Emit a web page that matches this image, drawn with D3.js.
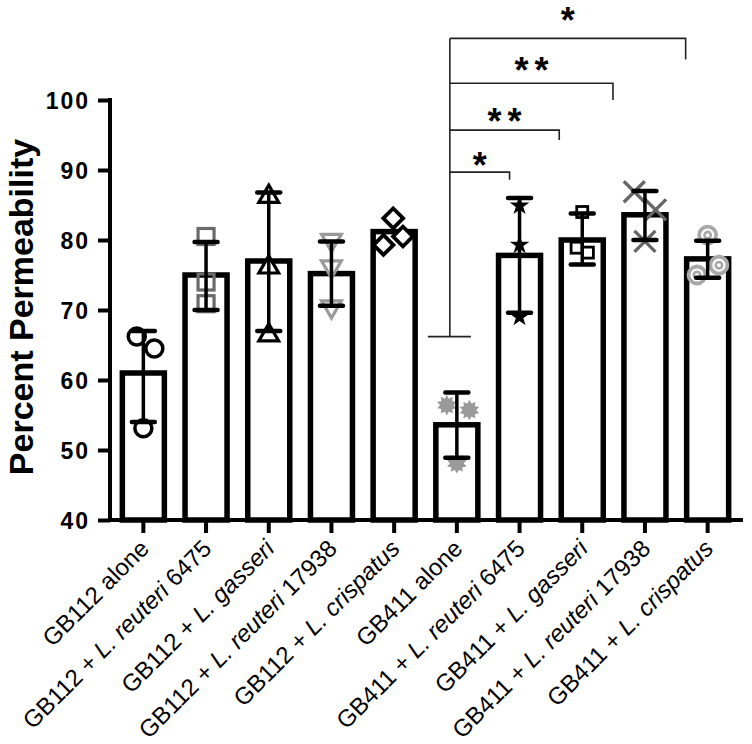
<!DOCTYPE html>
<head>
  <meta charset="utf-8">
  <title>Percent Permeability</title>
  <script src="https://d3js.org/d3.v7.min.js"></script>
  <style>
    body { margin: 0px; background: white; }
    text { font-family: "Liberation Sans", Arial, sans-serif; fill: black; }
    .ytick text { font-weight: bold; font-size: 23px; letter-spacing: 2px; }
    .xlab { font-size: 24px; }
    .sig { font-size: 36px; font-weight: bold; letter-spacing: 6px; }
  </style>
</head>
<body>
  <svg width="752" height="744"></svg>
  <script>
    // ---- data ----
    var categories = ["GB112 alone", "GB112 + L. reuteri 6475", "GB112 + L. gasseri",
      "GB112 + L. reuteri 17938", "GB112 + L. crispatus", "GB411 alone",
      "GB411 + L. reuteri 6475", "GB411 + L. gasseri", "GB411 + L. reuteri 17938",
      "GB411 + L. crispatus"];
    var means   = [61, 75, 77, 75.2, 81.2, 53.6, 77.8, 80, 83.6, 77.3];
    var errLow  = [54, 70, 67, 70.6, null, 48.9, 69.6, 76.5, 80, 74.6];
    var errHigh = [67, 79.7, 86.8, 79.8, null, 58.2, 86, 83.8, 87, 79.9];
    var points = [
      [66.2, 64.5, 53.1],
      [80.5, 74.0, 70.9],
      [86.2, 76.1, 66.4],
      [80.0, 76.2, 70.5],
      [83.1, 79.3, 80.5],
      [56.4, 55.7, 48.1],
      [84.9, 79.3, 69.0],
      [84.0, 78.9, 78.2],
      [86.9, 84.3, 79.8],
      [80.7, 76.4, 75.0]
    ];
    var yTicks = [40, 50, 60, 70, 80, 90, 100];
    // significance vs "GB411 alone": target bar, bracket level, drop level, label
    var sigTarget = [9, 8, 7, 6];
    var sigLevel  = [108.8, 102.4, 95.7, 89.7];
    var sigDrop   = [105.8, 100, 94.3, 88.6];
    var sigText   = ["*", "**", "**", "*"];
    var sigTextY  = [112.6, 105.4, 98.1, 91.9];
    var sigBase   = 66.2;

    // ---- layout ----
    var svg = d3.select("svg");
    var yAxisX = 110;
    var x = d3.scaleBand().domain(categories).range([112, 739]).paddingInner(0.33).paddingOuter(0.165);
    var y = d3.scaleLinear().domain([40, 100]).range([520, 100]);
    var cx = function(i) { return x(categories[i]) + x.bandwidth() / 2; };
    var step = x.step();
    // horizontal jitter of the dots (fraction of step), as in the figure
    var jitter = [[-0.105, 0.175, 0], [0, 0, 0], [0, 0, 0], [0, 0, 0], [-0.015, -0.17, 0.14],
      [-0.16, 0.2, 0], [0, 0, 0], [0, -0.09, 0.09], [-0.17, 0.17, 0], [0, 0.18, -0.17]];
    var markerType = ["circle", "square", "triUp", "triDown", "diamond", "gear", "star", "smallSquare", "cross", "rings"];
    var markerColor = ["#000", "#6a6a6a", "#000", "#9a9a9a", "#000", "#9a9a9a", "#000", "#000", "#666", "#a8a8a8"];

    // bars
    svg.append("g").selectAll("rect")
      .data(means)
      .enter().append("rect")
      .attr("x", function(d, i) { return x(categories[i]); })
      .attr("y", function(d) { return y(d); })
      .attr("width", x.bandwidth())
      .attr("height", function(d) { return y(40) - y(d); })
      .attr("fill", "white")
      .attr("stroke", "black")
      .attr("stroke-width", 5.5);

    // dots
    var dots = svg.append("g");
    points.forEach(function(vals, i) {
      vals.forEach(function(v, j) {
        var g = dots.append("g")
          .attr("transform", translate(cx(i) + jitter[i][j] * step, y(v)));
        drawMarker(g, markerType[i], markerColor[i]);
      });
    });

    // error bars
    var eb = svg.append("g").attr("stroke", "black");
    means.forEach(function(m, i) {
      if (errLow[i] == null) return;
      var c = cx(i);
      eb.append("line").attr("x1", c).attr("x2", c)
        .attr("y1", y(errLow[i])).attr("y2", y(errHigh[i])).attr("stroke-width", 3.5);
      [errLow[i], errHigh[i]].forEach(function(v) {
        eb.append("line").attr("x1", c - 11.5).attr("x2", c + 11.5)
          .attr("y1", y(v)).attr("y2", y(v)).attr("stroke-width", 4.5)
          .attr("stroke-linecap", "round");
      });
    });

    // y axis
    var yAxis = svg.append("g")
      .attr("class", "ytick")
      .attr("transform", translate(yAxisX, 0))
      .call(d3.axisLeft(y).tickValues(yTicks).tickSize(12).tickSizeOuter(0).tickPadding(8));
    yAxis.select(".domain").attr("stroke-width", 4).attr("d", "M0,98V522");
    yAxis.selectAll(".tick line").attr("stroke-width", 4);
    yAxis.selectAll(".tick text").attr("dy", "0.36em");

    svg.append("text")
      .attr("transform", translate(33, 307) + " rotate(-90)")
      .attr("text-anchor", "middle")
      .style("font-size", "34px")
      .style("font-weight", "bold")
      .text("Percent Permeability");

    // x axis
    svg.append("line")
      .attr("x1", yAxisX).attr("x2", 743)
      .attr("y1", y(40)).attr("y2", y(40))
      .attr("stroke", "black").attr("stroke-width", 4);
    svg.append("g").selectAll("line")
      .data(categories)
      .enter().append("line")
      .attr("x1", function(d, i) { return cx(i); })
      .attr("x2", function(d, i) { return cx(i); })
      .attr("y1", y(40)).attr("y2", y(40) + 13)
      .attr("stroke", "black").attr("stroke-width", 4);

    var labels = svg.append("g").selectAll("text")
      .data(categories)
      .enter().append("text")
      .attr("class", "xlab")
      .attr("text-anchor", "end")
      .attr("transform", function(d, i) { return translate(cx(i) + 7, 550) + " rotate(-45)"; });
    labels.each(function(d) {
      var t = d3.select(this);
      d.split(/(L\. [a-z]+)/).forEach(function(part) {
        if (!part) return;
        t.append("tspan").text(part).style("font-style", /^L\./.test(part) ? "italic" : "normal");
      });
    });

    // significance brackets
    var ref = cx(5) - 7;
    var br = svg.append("g").attr("stroke", "#222").attr("stroke-width", 1.6).attr("fill", "none");
    br.append("line").attr("x1", ref).attr("x2", ref).attr("y1", y(sigLevel[0])).attr("y2", y(sigBase));
    br.append("line").attr("x1", ref - 22).attr("x2", ref + 21).attr("y1", y(sigBase)).attr("y2", y(sigBase));
    var endOffset = [-22, -32, -23, -10];
    sigTarget.forEach(function(t, k) {
      var xe = cx(t) + endOffset[k];
      br.append("path")
        .attr("d", "M" + ref + "," + y(sigLevel[k]) + "H" + xe + "V" + y(sigDrop[k]));
      svg.append("text")
        .attr("class", "sig")
        .attr("text-anchor", "middle")
        .attr("x", (ref + xe) / 2 + 3)
        .attr("y", y(sigTextY[k]) + 21)
        .text(sigText[k]);
    });

    function drawMarker(g, type, col) {
      if (type == "circle") {
        g.append("circle").attr("r", 8.5).attr("fill", "white").attr("stroke", col).attr("stroke-width", 3.5);
      } else if (type == "square") {
        g.append("rect").attr("x", -8).attr("y", -8).attr("width", 16).attr("height", 16)
          .attr("fill", "none").attr("stroke", col).attr("stroke-width", 3.2);
      } else if (type == "smallSquare") {
        g.append("rect").attr("x", -5.5).attr("y", -5.5).attr("width", 11).attr("height", 11)
          .attr("fill", "none").attr("stroke", col).attr("stroke-width", 2.8);
      } else if (type == "triUp" || type == "triDown") {
        g.append("path").attr("d", d3.symbol().type(d3.symbolTriangle).size(170)())
          .attr("transform", type == "triDown" ? "rotate(180)" : null)
          .attr("fill", "white").attr("stroke", col).attr("stroke-width", 3.2);
      } else if (type == "diamond") {
        g.append("rect").attr("x", -7).attr("y", -7).attr("width", 14).attr("height", 14)
          .attr("transform", "rotate(45)")
          .attr("fill", "white").attr("stroke", col).attr("stroke-width", 3.8);
      } else if (type == "star") {
        g.append("path").attr("d", d3.symbol().type(d3.symbolStar).size(120)()).attr("fill", col);
      } else if (type == "cross") {
        g.append("path").attr("d", "M-10.5,-10.5L10.5,10.5M-10.5,10.5L10.5,-10.5")
          .attr("stroke", col).attr("stroke-width", 3.4);
      } else if (type == "rings") {
        g.append("circle").attr("r", 8.5).attr("fill", "white").attr("stroke", col).attr("stroke-width", 3.8);
        g.append("circle").attr("r", 3.2).attr("fill", "none").attr("stroke", col).attr("stroke-width", 2.6);
      } else if (type == "gear") {
        var pts = [];
        for (var k = 0; k < 20; k++) {
          var a = k * Math.PI / 10;
          var r = k % 2 == 0 ? 10 : 7;
          pts.push([r * Math.sin(a), -r * Math.cos(a)]);
        }
        g.append("path").attr("d", d3.line().curve(d3.curveCardinalClosed)(pts)).attr("fill", col);
      }
    }

    function translate(x, y) {
      return "translate(" + String(x) + "," + String(y) + ")";
    }
  </script>
</body>
</html>
